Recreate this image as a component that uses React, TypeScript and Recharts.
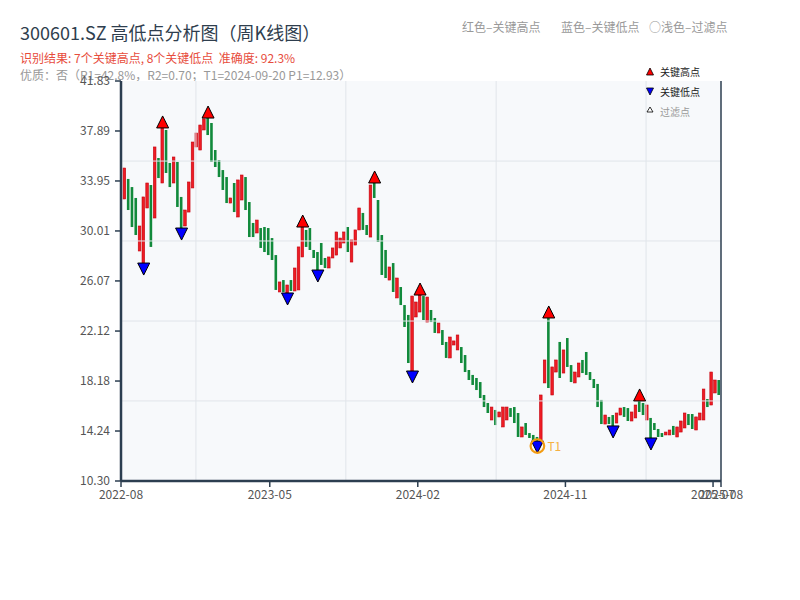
import React from 'react';
import {
  Bar,
  CartesianGrid,
  ComposedChart,
  ReferenceLine,
  Scatter,
  XAxis,
  YAxis,
} from 'recharts';

// weekly bodies (open / close)
const opens = [
  35.37, 32.53, 34.11, 33.47, 32.61, 28.43, 27.48, 31.82, 33.63, 31.03,
  35.76, 33.79, 37.97, 35.37, 33.79, 35.45, 32.69, 30.4, 31.5, 33.4,
  36.63, 36.39, 37.97, 38.91, 38.52, 36.39, 35.6, 34.81, 34.26, 32.21,
  33.79, 31.11, 32.45, 34.26, 32.29, 30.64, 29.85, 30.24, 30.32, 30.24,
  29.45, 28.11, 25.2, 26.14, 25.12, 26.14, 25.28, 25.36, 27.96, 30.09,
  30.24, 28.51, 28.35, 29.06, 27.88, 27.09, 27.88, 28.11, 28.67, 29.06,
  30.32, 27.56, 28.9, 30.09, 31.43, 30.48, 29.53, 33.79, 32.45, 29.69,
  28.51, 26.14, 27.48, 24.73, 25.59, 24.17, 23.39, 18.97, 23.23, 23.62,
  24.88, 22.83, 23.78, 23.15, 21.97, 22.2, 21.26, 20.0, 21.02, 20.63,
  20.86, 20.23, 19.05, 18.66, 18.42, 18.1, 17.08, 16.45, 15.11, 15.9,
  15.35, 14.56, 15.11, 16.05, 16.13, 15.66, 13.77, 14.87, 14.08, 13.93,
  13.77, 13.53, 18.03, 23.15, 17.08, 18.89, 21.26, 18.81, 21.57, 19.44,
  18.03, 18.5, 19.84, 20.47, 18.89, 18.34, 17.95, 16.69, 14.79, 15.35,
  15.5, 14.87, 15.5, 16.13, 16.05, 15.03, 15.27, 16.61, 16.45, 15.11,
  15.27, 14.87, 14.4, 14.08, 13.93, 13.93, 14.64, 13.77, 14.16, 14.48,
  15.58, 15.58, 14.32, 15.11, 15.11, 16.76, 16.29, 17.24, 18.26,
];
const closes = [
  33.4, 34.97, 31.66, 30.32, 29.69, 30.4, 32.69, 33.79, 28.75, 36.63,
  34.18, 38.13, 34.58, 33.47, 35.84, 31.9, 30.24, 31.66, 33.87, 37.02,
  37.73, 38.36, 38.84, 37.57, 35.45, 35.05, 34.26, 33.24, 32.21, 32.61,
  31.5, 34.03, 34.42, 31.66, 29.53, 29.53, 30.87, 28.67, 28.35, 28.11,
  27.72, 25.36, 25.99, 25.2, 25.75, 25.28, 27.09, 28.75, 30.32, 28.75,
  28.51, 27.88, 26.93, 27.33, 27.09, 27.96, 28.67, 29.93, 29.45, 29.93,
  28.35, 29.3, 30.09, 31.82, 30.09, 29.69, 33.63, 32.61, 29.14, 26.54,
  26.3, 27.17, 25.2, 26.3, 24.17, 22.44, 19.6, 24.88, 24.41, 24.96,
  22.99, 24.8, 22.83, 21.97, 22.75, 21.02, 20.0, 21.65, 21.34, 21.81,
  19.6, 18.89, 18.26, 17.87, 17.47, 16.84, 16.13, 15.66, 16.13, 14.71,
  15.74, 16.13, 16.13, 15.35, 14.87, 13.77, 14.56, 13.93, 13.69, 13.53,
  13.45, 17.08, 19.84, 17.63, 19.29, 19.84, 18.42, 20.63, 19.29, 18.1,
  18.89, 19.6, 18.81, 18.66, 18.26, 17.63, 16.13, 14.79, 15.5, 14.79,
  14.64, 15.66, 16.05, 15.35, 15.03, 15.74, 16.29, 15.74, 15.5, 16.29,
  13.69, 14.32, 13.77, 13.77, 14.16, 14.32, 13.93, 14.56, 15.03, 15.66,
  14.71, 14.4, 15.35, 15.66, 17.55, 16.13, 18.89, 18.26, 17.08,
];

const keyHighIdx = [11, 23, 48, 67, 79, 113, 137];
const keyLowIdx = [6, 16, 44, 52, 77, 110, 130, 140];
const t1Idx = 110;

const yTicks = [10.3, 14.24, 18.18, 22.12, 26.07, 30.01, 33.95, 37.89, 41.83];
const xTickIdx = [0, 39.3, 78.4, 117.4, 156.4, 158.5];
const xTickLabels = ['2022-08', '2023-05', '2024-02', '2024-11', '2025-07', '2025-08'];
const gridIdx = [19.8, 59.4, 99.1, 138.7];
const gridPrices = [35.52, 29.22, 22.91, 16.61];

const FONT = '"Noto Sans CJK SC", "Noto Sans", sans-serif';
const AXIS = '#2c3e50';
const GRID = '#e1e5ea';

const rows = opens.map((o, i) => ({
  i,
  range: [Math.min(o, closes[i]), Math.max(o, closes[i])],
  up: closes[i] >= o,
}));
const highs = keyHighIdx.map((i) => ({ i, v: Math.max(opens[i], closes[i]) }));
const lows = keyLowIdx.map((i) => ({ i, v: Math.min(opens[i], closes[i]), t1: i === t1Idx }));

const Candle = (props: any) => {
  const { x, y, width, height, payload } = props;
  if (x == null || y == null) return null;
  const top = height < 0 ? y + height : y;
  const h = Math.max(Math.abs(height), 1);
  const cx = x + width / 2;
  if (payload.up) {
    return <rect x={cx - 1.3} y={top} width={2.6} height={h} fill="#ee1c24" stroke="#c4000c" strokeWidth={0.6} />;
  }
  return <rect x={cx - 1.3} y={top} width={2.6} height={h} fill="#118a3b" />;
};

const HighMark = ({ cx, cy }: any) => (
  <polygon points={`${cx - 6},${cy} ${cx + 6},${cy} ${cx},${cy - 12}`} fill="#ff0000" stroke="#000" strokeWidth={1} />
);

const LowMark = ({ cx, cy, payload }: any) => (
  <g>
    <polygon points={`${cx - 6},${cy} ${cx + 6},${cy} ${cx},${cy + 12}`} fill="#0000ff" stroke="#000" strokeWidth={1} />
    {payload.t1 && (
      <>
        <circle cx={cx} cy={cy + 5} r={6.8} fill="none" stroke="#f39c12" strokeWidth={2.2} />
        <text x={cx + 10} y={cy + 10} fill="#f5b041" fontSize={12} fontFamily={FONT}>T1</text>
      </>
    )}
  </g>
);

export default function App() {
  return (
    <div style={{ position: 'absolute', left: 0, top: 0, width: 800, height: 600, background: '#fff', fontFamily: FONT }}>
      <svg width={800} height={600} style={{ position: 'absolute', left: 0, top: 0 }}>
        <text x={20} y={39.5} fontSize={18} fill="#2f3e4e">300601.SZ 高低点分析图（周K线图）</text>
        <text x={20} y={63} fontSize={12} fill="#e74c3c">识别结果: 7个关键高点, 8个关键低点{'\u00a0\u00a0'}准确度: 92.3%</text>
        <text x={20} y={80} fontSize={12} fill="#999">优质：否（R1=42.8%，R2=0.70；T1=2024-09-20 P1=12.93）</text>
        <text x={462} y={32} fontSize={12} fill="#999">红色–关键高点</text>
        <text x={561} y={32} fontSize={12} fill="#999">蓝色–关键低点</text>
        <text x={649} y={32} fontSize={12} fill="#999">○浅色–过滤点</text>
      </svg>
      <div style={{ position: 'absolute', left: 0, top: 0 }}>
        <ComposedChart width={800} height={600} data={rows} margin={{ top: 81, right: 59, left: 61, bottom: 89 }}>
          <CartesianGrid xAxisId="b" yAxisId="l" fill="#f7f9fb" horizontal={false} vertical={false} />
          <XAxis
            xAxisId="b"
            dataKey="i"
            type="number"
            domain={[0, 158.5]}
            ticks={xTickIdx}
            interval={0}
            tickFormatter={(v: number) => xTickLabels[xTickIdx.indexOf(v)]}
            tick={{ fill: '#555', fontSize: 12, fontFamily: FONT }}
            tickLine={{ stroke: AXIS, strokeWidth: 1.5 }}
            axisLine={{ stroke: AXIS, strokeWidth: 2.5 }}
            tickMargin={3}
            height={30}
            allowDataOverflow
          />
          <XAxis xAxisId="t" orientation="top" type="number" domain={[0, 158.5]} tick={false} tickLine={false} axisLine={{ stroke: AXIS, strokeWidth: 1.5 }} height={0} />
          <YAxis
            yAxisId="l"
            type="number"
            domain={[10.3, 41.83]}
            ticks={yTicks}
            interval={0}
            tickFormatter={(v: number) => v.toFixed(2)}
            tick={{ fill: '#555', fontSize: 12, fontFamily: FONT }}
            tickLine={{ stroke: AXIS, strokeWidth: 1.5 }}
            axisLine={{ stroke: AXIS, strokeWidth: 2.5 }}
            tickMargin={5}
            width={60}
            allowDataOverflow
          />
          <YAxis
            yAxisId="r"
            orientation="right"
            type="number"
            domain={[10.3, 41.83]}
            ticks={yTicks}
            interval={0}
            tick={false}
            tickLine={{ stroke: AXIS, strokeWidth: 1.5 }}
            axisLine={{ stroke: AXIS, strokeWidth: 1.5 }}
            width={20}
          />
          {gridPrices.map((v) => (
            <ReferenceLine key={`h${v}`} xAxisId="b" yAxisId="l" y={v} stroke={GRID} strokeWidth={1} />
          ))}
          {gridIdx.map((v) => (
            <ReferenceLine key={`v${v}`} xAxisId="b" yAxisId="l" x={v} stroke={GRID} strokeWidth={1} />
          ))}
          <Bar xAxisId="b" yAxisId="l" dataKey="range" barSize={3} shape={<Candle />} isAnimationActive={false} />
          <Scatter xAxisId="b" yAxisId="l" data={highs} dataKey="v" shape={<HighMark />} isAnimationActive={false} />
          <Scatter xAxisId="b" yAxisId="l" data={lows} dataKey="v" shape={<LowMark />} isAnimationActive={false} />
        </ComposedChart>
      </div>
      <svg width={800} height={600} style={{ position: 'absolute', left: 0, top: 0, pointerEvents: 'none' }}>
        <polygon points="646.5,75 653.5,75 650,68" fill="#ff0000" stroke="#000" strokeWidth={0.8} />
        <text x={660} y={76} fontSize={10} fill="#222">关键高点</text>
        <polygon points="646.5,88 653.5,88 650,95" fill="#0000ff" stroke="#000" strokeWidth={0.8} />
        <text x={660} y={96} fontSize={10} fill="#222">关键低点</text>
        <polygon points="647,112 653,112 650,107" fill="#fff" stroke="#000" strokeWidth={0.8} />
        <text x={660} y={116} fontSize={10} fill="#999">过滤点</text>
      </svg>
    </div>
  );
}
